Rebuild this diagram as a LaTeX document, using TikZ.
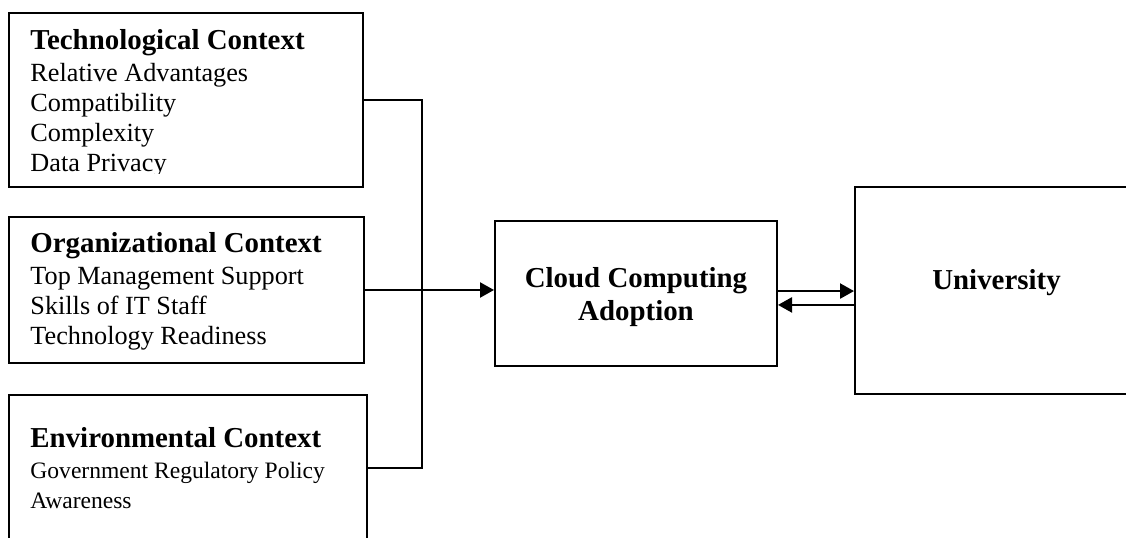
\documentclass[tikz,border=0pt]{standalone}
\usepackage{fontspec}
\setmainfont{Liberation Serif}
\usetikzlibrary{arrows.meta}

\newcommand{\pxu}{0.45pt}

\tikzset{
	box/.style={draw, rectangle, line width=0.9pt, inner sep=0pt, anchor=north west},
	heading/.style={font=\fontsize{13}{14.85}\selectfont\bfseries, inner sep=0pt},
	item/.style={font=\fontsize{11.8}{13.5}\selectfont, inner sep=0pt, anchor=base west},
	link/.style={line width=0.9pt},
	arrow/.style={link, -{Triangle[length=6.3pt, width=6.8pt]}}
}

\begin{document}
\begin{tikzpicture}[x=0.45pt, y=-0.45pt]
		
		\clip (0,0) rectangle (1126,538);
		
		% Context boxes
		\node [box,
		minimum width=354*\pxu,
		minimum height=174*\pxu] (tech) at (8,12){};
		
		\node [box,
		minimum width=355*\pxu,
		minimum height=146*\pxu] (org) at (8,216){};
		
		\node [box,
		minimum width=358*\pxu,
		minimum height=146*\pxu] (env) at (8,394){};
		
		% Technological
		\node[heading, anchor=base west] (techhead) at (30,50) {Technological Context};
		\begin{scope}
			\clip (8,12) rectangle (362,174);
			\foreach \txt [count=\i] in {Relative Advantages, Compatibility, Complexity, Data Privacy}
			\node[item] (tech\i) at (30,52+30*\i) {\txt};
		\end{scope}
		
		% Organizational
		\node[heading, anchor=base west] (orghead) at (30,253) {Organizational Context};
		\foreach \txt [count=\i] in {Top Management Support, Skills of IT Staff, Technology Readiness}
		\node[item] (org\i) at (30,255+30*\i) {\txt};
		
		% Environmental
		\node[heading, anchor=base west] (envhead) at (30,448) {Environmental Context};
		\foreach \txt [count=\i] in {Government Regulatory Policy, Awareness}
		\node[item, font=\fontsize{10.6}{13.5}\selectfont] (env\i) at (30,448+30*\i) {\txt};
		
		% Adoption and University
		\node [box,
		minimum width=282*\pxu,
		minimum height=145*\pxu] (cloud) at (494,220){};
		
		\node[heading, align=center] (cloudtext) at ([yshift=-1.8pt]cloud.center) {Cloud Computing\\Adoption};
		
		\node [box,
		minimum width=285*\pxu,
		minimum height=207*\pxu] (univ) at (854,186){};
		
		\node[heading, anchor=base] (univtext) at (996.5,290) {University};
		
		% Connectors
		\coordinate (bus) at (422,0);
		
		\draw[link] (tech.east) -- (tech.east -| bus) -- (env.east -| bus) -- (env.east);
		
		\draw[arrow] (org.east) -- (org.east -| cloud.west);
		
		\draw[arrow] ([yshift=1.1pt]cloud.east) -- ([yshift=1.1pt]cloud.east -| univ.west);
		
		\draw[arrow] ([yshift=-6.5pt]univ.west) -- ([yshift=-6.5pt]univ.west -| cloud.east);
		
	\end{tikzpicture}
\end{document}
